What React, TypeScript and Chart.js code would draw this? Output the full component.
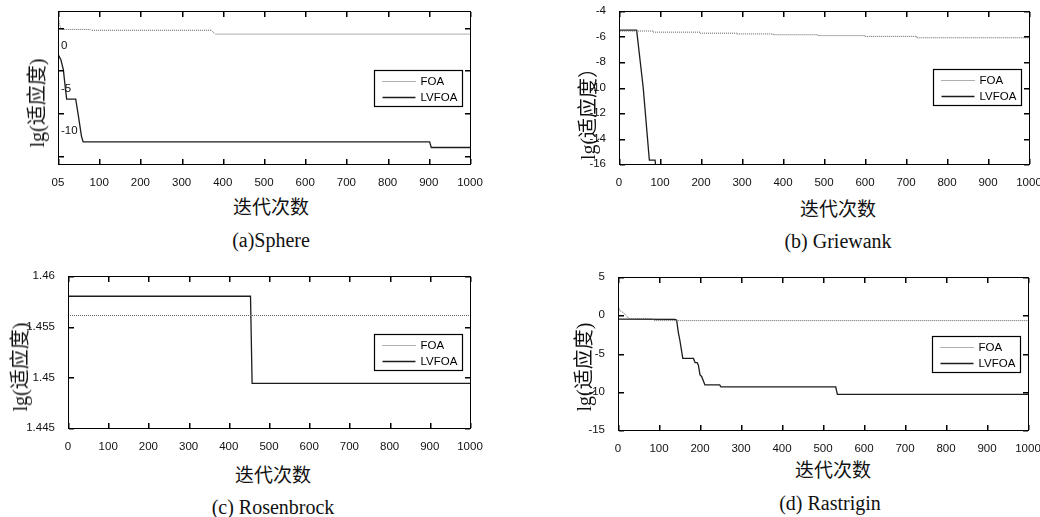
import React, { useEffect, useRef } from 'react';
import { Chart, registerables } from 'chart.js';

Chart.register(...registerables);

// ---------- data ----------
const X_TICKS = [0, 100, 200, 300, 400, 500, 600, 700, 800, 900, 1000];
const X_LABELS = ['0', '100', '200', '300', '400', '500', '600', '700', '800', '900', '1000'];
const X_LABELS_A = ['05', '100', '200', '300', '400', '500', '600', '700', '800', '900', '1000'];

const SERIES_NAMES = ['FOA', 'LVFOA'];

// (a) Sphere
const Y_TICKS_A = [-15, -10, -5, 0];
const Y_LABELS_A = ['', '-10', '-5', '0'];
const ITER_A_FOA = [0, 4, 8, 78, 80, 372, 382, 1000];
const A_FOA = [1.5, 0.3, -0.2, -0.2, -0.3, -0.3, -0.75, -0.75];
const ITER_A_LV = [0, 7, 13, 17, 21, 43, 49, 57, 61, 902, 906, 1000];
const A_LV = [-3.1, -3.75, -4.9, -6.7, -8.35, -8.35, -10.15, -12.7, -13.35, -13.35, -14.0, -14.0];

// (b) Griewank
const Y_TICKS_B = [-16, -14, -12, -10, -8, -6, -4];
const Y_LABELS_B = ['-16', '-14', '-12', '-10', '-8', '-6', '-4'];
const ITER_B_FOA = [0, 84, 198, 287, 376, 486, 600, 726, 864, 1000];
const B_FOA = [-5.5, -5.57, -5.66, -5.74, -5.8, -5.86, -5.93, -5.99, -6.1, -6.1];
const ITER_B_LV = [0, 43, 59, 74, 88, 92];
const B_LV = [-5.5, -5.5, -10.0, -15.7, -15.7, -17];

// (c) Rosenbrock
const Y_TICKS_C = [1.445, 1.45, 1.455, 1.46];
const Y_LABELS_C = ['1.445', '1.45', '1.455', '1.46'];
const ITER_C_FOA = [0, 1000];
const C_FOA = [1.4561, 1.4561];
const ITER_C_LV = [0, 454, 458, 1000];
const C_LV = [1.458, 1.458, 1.4494, 1.4494];

// (d) Rastrigin
const Y_TICKS_D = [-15, -10, -5, 0, 5];
const Y_LABELS_D = ['-15', '-10', '-5', '0', '5'];
const ITER_D_FOA = [0, 1, 4, 10, 16, 27, 84, 88, 1000];
const D_FOA = [1.8, 1.2, 0.6, 0.45, 0.2, -0.45, -0.45, -0.7, -0.7];
const ITER_D_LV = [0, 139, 143, 147, 151, 158, 184, 188, 193, 196, 200, 204, 212, 248, 251, 531, 535, 1000];
const D_LV = [-0.5, -0.55, -0.65, -2.2, -3.3, -5.65, -5.65, -6.2, -6.2, -6.5, -7.8, -8.0, -9.1, -9.1, -9.35, -9.35, -10.35, -10.35];

const X_TITLE = '迭代次数';
const CAPTIONS = ['(a)Sphere', '(b) Griewank', '(c) Rosenbrock', '(d) Rastrigin'];
const Y_TITLES = ['lg(适应度)', 'lg(适应度）', 'lg(适应度)', 'lg(适应度)'];

// ---------- helpers ----------
const TICK_FONT = '"Liberation Sans", Arial, sans-serif';
const TEXT_FONT = '"Liberation Serif", "Noto Sans CJK SC", serif';

const pts = (xs: number[], ys: number[]) => xs.map((x, i) => ({ x, y: ys[i] }));

// box frame + inward tick marks on all four sides, positioned from the scales' own ticks
const frameTicks = {
  id: 'frameTicks',
  afterDraw(chart: any) {
    const { ctx, chartArea: a } = chart;
    const xs = chart.scales.x;
    const ys = chart.scales.y;
    const l = Math.round(a.left), t = Math.round(a.top);
    const r = Math.round(a.right), b = Math.round(a.bottom);
    ctx.save();
    ctx.fillStyle = '#000';
    ctx.fillRect(l, t, r - l + 1, 1);
    ctx.fillRect(l, b, r - l + 1, 1);
    ctx.fillRect(l, t, 1, b - t + 1);
    ctx.fillRect(r, t, 1, b - t + 1);
    for (let i = 0; i < xs.ticks.length; i++) {
      const px = Math.round(xs.getPixelForTick(i));
      if (!isFinite(px)) continue;
      ctx.fillRect(px, b - 5, 1.5, 5);
      ctx.fillRect(px, t + 1, 1.5, 5);
    }
    for (let i = 0; i < ys.ticks.length; i++) {
      const py = Math.round(ys.getPixelForTick(i));
      if (!isFinite(py)) continue;
      ctx.fillRect(l + 1, py, 5, 1.5);
      ctx.fillRect(r - 5, py, 5, 1.5);
    }
    ctx.restore();
  },
};

const boxLegend = {
  id: 'boxLegend',
  afterDraw(chart: any, _args: any, opts: any) {
    const { ctx, chartArea } = chart;
    const w = 88, h = 36;
    const x = Math.round(chartArea.right - opts.right - w) + 0.5;
    const y = Math.round(chartArea.top + opts.top) + 0.5;
    ctx.save();
    ctx.fillStyle = '#fff';
    ctx.fillRect(x, y, w, h);
    ctx.strokeStyle = '#000';
    ctx.lineWidth = 1.2;
    ctx.strokeRect(x, y, w, h);
    chart.data.datasets.forEach((ds: any, i: number) => {
      const ly = Math.round(y + 10 + i * 16.7) + 0.5;
      ctx.strokeStyle = ds.borderColor;
      ctx.lineWidth = ds.borderWidth;
      ctx.setLineDash(ds.borderDash || []);
      ctx.beginPath();
      ctx.moveTo(x + 8, ly);
      ctx.lineTo(x + 41, ly);
      ctx.stroke();
      ctx.setLineDash([]);
      ctx.fillStyle = '#000';
      ctx.font = `11.5px ${TICK_FONT}`;
      ctx.textBaseline = 'middle';
      ctx.fillText(ds.label, x + 46, ly + 0.5);
    });
    ctx.restore();
  },
};

type PanelCfg = {
  box: [number, number, number, number];
  area: [number, number, number, number];
  yMin: number; yMax: number;
  yTicks: number[]; yLabels: string[];
  xLabels: string[];
  foa: { x: number; y: number }[];
  lv: { x: number; y: number }[];
  foaStepped?: any;
  mirrorY?: boolean;
  legendTop: number;
};

const PANELS: PanelCfg[] = [
  {
    box: [0, 0, 520, 190], area: [58, 11, 470, 164],
    yMin: -15.93, yMax: 1.95, yTicks: Y_TICKS_A, yLabels: Y_LABELS_A, xLabels: X_LABELS_A,
    foa: pts(ITER_A_FOA, A_FOA), lv: pts(ITER_A_LV, A_LV), mirrorY: true, legendTop: 59,
  },
  {
    box: [520, 0, 520, 190], area: [619, 11, 1029, 164],
    yMin: -16, yMax: -4, yTicks: Y_TICKS_B, yLabels: Y_LABELS_B, xLabels: X_LABELS,
    foa: pts(ITER_B_FOA, B_FOA), lv: pts(ITER_B_LV, B_LV), foaStepped: 'after', legendTop: 58,
  },
  {
    box: [0, 260, 520, 196], area: [68, 276, 470, 428],
    yMin: 1.445, yMax: 1.46, yTicks: Y_TICKS_C, yLabels: Y_LABELS_C, xLabels: X_LABELS,
    foa: pts(ITER_C_FOA, C_FOA), lv: pts(ITER_C_LV, C_LV), legendTop: 58,
  },
  {
    box: [520, 260, 520, 196], area: [618, 277, 1028, 430],
    yMin: -15, yMax: 5, yTicks: Y_TICKS_D, yLabels: Y_LABELS_D, xLabels: X_LABELS,
    foa: pts(ITER_D_FOA, D_FOA), lv: pts(ITER_D_LV, D_LV), legendTop: 59,
  },
];

function Panel({ cfg }: { cfg: PanelCfg }) {
  const ref = useRef<HTMLCanvasElement>(null);
  useEffect(() => {
    const [bl, bt, bw, bh] = cfg.box;
    const [al, at, ar, ab] = cfg.area;
    const yW = al - bl;
    const xH = bt + bh - ab;
    const chart = new Chart(ref.current as HTMLCanvasElement, {
      type: 'line',
      data: {
        datasets: [
          {
            label: SERIES_NAMES[0], data: cfg.foa, borderColor: '#5e5e5e', borderWidth: 1,
            borderDash: [1, 1], pointRadius: 0, tension: 0, fill: false, stepped: cfg.foaStepped || false,
          },
          {
            label: SERIES_NAMES[1], data: cfg.lv, borderColor: '#1c1c1c', borderWidth: 1.3,
            pointRadius: 0, tension: 0, fill: false,
          },
        ],
      },
      options: {
        animation: false,
        responsive: false,
        events: [],
        layout: { padding: { left: 0, top: at - bt, right: bl + bw - ar, bottom: 0 } },
        plugins: {
          legend: { display: false },
          tooltip: { enabled: false },
          boxLegend: { right: 8, top: cfg.legendTop },
        } as any,
        scales: {
          x: {
            type: 'linear', min: 0, max: 1000,
            grid: { display: false }, border: { display: false },
            afterBuildTicks: (s: any) => { s.ticks = X_TICKS.map((v) => ({ value: v })); },
            afterFit: (s: any) => { s.height = xH; s.paddingLeft = 0; s.paddingRight = 0; },
            ticks: {
              autoSkip: false, maxRotation: 0, padding: 4, color: '#111',
              font: { family: TICK_FONT, size: 11.5 },
              callback: (_v: any, i: number) => cfg.xLabels[i],
            },
          },
          y: {
            type: 'linear', min: cfg.yMin, max: cfg.yMax,
            grid: { display: false }, border: { display: false },
            afterBuildTicks: (s: any) => { s.ticks = cfg.yTicks.map((v) => ({ value: v })); },
            afterFit: (s: any) => { s.width = yW; s.paddingTop = 0; s.paddingBottom = 0; },
            ticks: {
              autoSkip: false, padding: cfg.mirrorY ? 3 : 5, color: '#111',
              mirror: !!cfg.mirrorY, labelOffset: cfg.mirrorY ? 18 : 0,
              font: { family: TICK_FONT, size: 11.5 },
              callback: (_v: any, i: number) => cfg.yLabels[i],
            },
          },
        },
      } as any,
      plugins: [frameTicks, boxLegend],
    });
    return () => chart.destroy();
  }, [cfg]);
  const [bl, bt, bw, bh] = cfg.box;
  return (
    <canvas
      ref={ref}
      width={bw}
      height={bh}
      style={{ position: 'absolute', left: bl, top: bt }}
    />
  );
}

const label = (text: string, x: number, y: number, size: number, rotate = false) => (
  <div
    key={`${text}-${x}-${y}`}
    style={{
      position: 'absolute', left: x, top: y, whiteSpace: 'nowrap', pointerEvents: 'none',
      transform: `translate(-50%, -50%)${rotate ? ' rotate(-90deg)' : ''}`,
      fontFamily: TEXT_FONT, fontSize: size, color: '#111', lineHeight: 1,
    }}
  >
    {text}
  </div>
);

export default function App() {
  return (
    <div style={{ position: 'absolute', left: 0, top: 0, width: 1040, height: 517 }}>
      {PANELS.map((p, i) => <Panel key={i} cfg={p} />)}
      {label(Y_TITLES[0], 37, 103, 20, true)}
      {label(Y_TITLES[1], 588, 109, 20, true)}
      {label(Y_TITLES[2], 20, 367, 20, true)}
      {label(Y_TITLES[3], 584, 367, 20, true)}
      {label(X_TITLE, 271, 207, 19)}
      {label(X_TITLE, 838, 209, 19)}
      {label(X_TITLE, 273, 475, 19)}
      {label(X_TITLE, 833, 470, 19)}
      {label(CAPTIONS[0], 271, 240, 20)}
      {label(CAPTIONS[1], 838, 241, 20)}
      {label(CAPTIONS[2], 273, 507, 20)}
      {label(CAPTIONS[3], 830, 503, 20)}
    </div>
  );
}
